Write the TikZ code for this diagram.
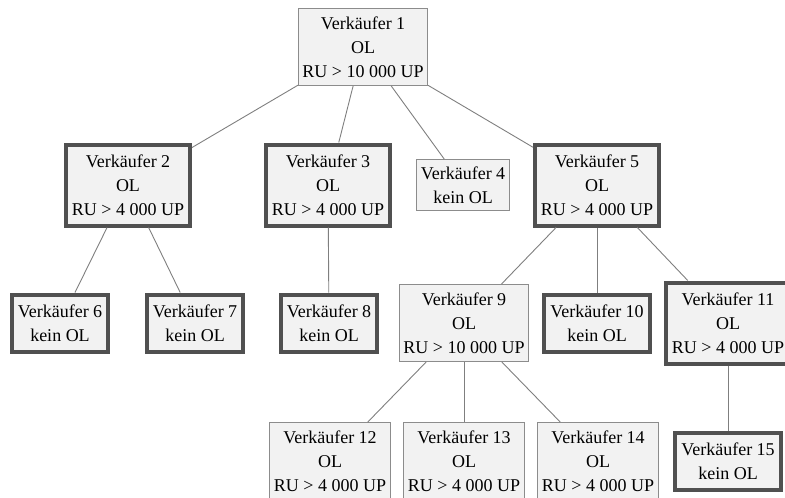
\documentclass[tikz,border=0pt]{standalone}
\usepackage{fontspec}
\setmainfont{Liberation Serif}
\usepackage{tikz}
\usetikzlibrary{positioning}
\definecolor{boxfill}{HTML}{F2F2F2}
\definecolor{thinline}{HTML}{8C8C8C}
\definecolor{thickline}{HTML}{505050}
\definecolor{linkgray}{HTML}{7F7F7F}
\tikzstyle{seller} = [rectangle, align=center, fill=boxfill, font=\fontsize{18}{24}\selectfont, inner ysep=2pt]
\tikzstyle{plain} = [seller, draw=thinline, line width=1pt, inner xsep=4pt]
\tikzstyle{strong} = [seller, draw=thickline, line width=4pt, inner xsep=6pt]
\tikzstyle{link} = [draw=linkgray, line width=0.9pt]

\begin{document}
\begin{tikzpicture}[node distance=138pt]
\clip (0,0) rectangle (785pt,-498pt);

% Level 1
\node (v1) [plain, minimum height=77pt] at (363pt,-47pt) {Verkäufer 1\\OL\\RU > 10~000 UP};

% Level 2
\node (v2) [strong, minimum height=81pt, below of=v1, xshift=-235pt] {Verkäufer 2\\OL\\RU > 4~000 UP};
\node (v3) [strong, minimum height=81pt, below of=v1, xshift=-35pt] {Verkäufer 3\\OL\\RU > 4~000 UP};
\node (v4) [plain, minimum height=51pt, below of=v1, xshift=100pt] {Verkäufer 4\\kein OL};
\node (v5) [strong, minimum height=81pt, below of=v1, xshift=234pt] {Verkäufer 5\\OL\\RU > 4~000 UP};

% Level 3
\node (v6) [strong, minimum height=57pt, below of=v2, xshift=-68pt] {Verkäufer 6\\kein OL};
\node (v7) [strong, minimum height=57pt, below of=v2, xshift=67pt] {Verkäufer 7\\kein OL};
\node (v8) [strong, minimum height=57pt, below of=v3, xshift=1pt] {Verkäufer 8\\kein OL};
\node (v9) [plain, minimum height=77pt, below of=v5, xshift=-133pt] {Verkäufer 9\\OL\\RU > 10~000 UP};
\node (v10) [strong, minimum height=57pt, below of=v5] {Verkäufer 10\\kein OL};
\node (v11) [strong, minimum height=81pt, below of=v5, xshift=131pt] {Verkäufer 11\\OL\\RU > 4~000 UP};

% Level 4
\node (v12) [plain, minimum height=77pt, below of=v9, xshift=-134pt] {Verkäufer 12\\OL\\RU > 4~000 UP};
\node (v13) [plain, minimum height=77pt, below of=v9] {Verkäufer 13\\OL\\RU > 4~000 UP};
\node (v14) [plain, minimum height=77pt, below of=v9, xshift=134pt] {Verkäufer 14\\OL\\RU > 4~000 UP};
\node (v15) [strong, minimum height=57pt, below of=v11] {Verkäufer 15\\kein OL};

% Links
\draw [link] (v1) -- (v2);
\draw [link] (v1) -- (v3);
\draw [link] (v1) -- (v4);
\draw [link] (v1) -- (v5);
\draw [link] (v2) -- (v6);
\draw [link] (v2) -- (v7);
\draw [link] (v3) -- (v8);
\draw [link] (v5) -- (v9);
\draw [link] (v5) -- (v10);
\draw [link] (v5) -- (v11);
\draw [link] (v9) -- (v12);
\draw [link] (v9) -- (v13);
\draw [link] (v9) -- (v14);
\draw [link] (v11) -- (v15);

\end{tikzpicture}
\end{document}
